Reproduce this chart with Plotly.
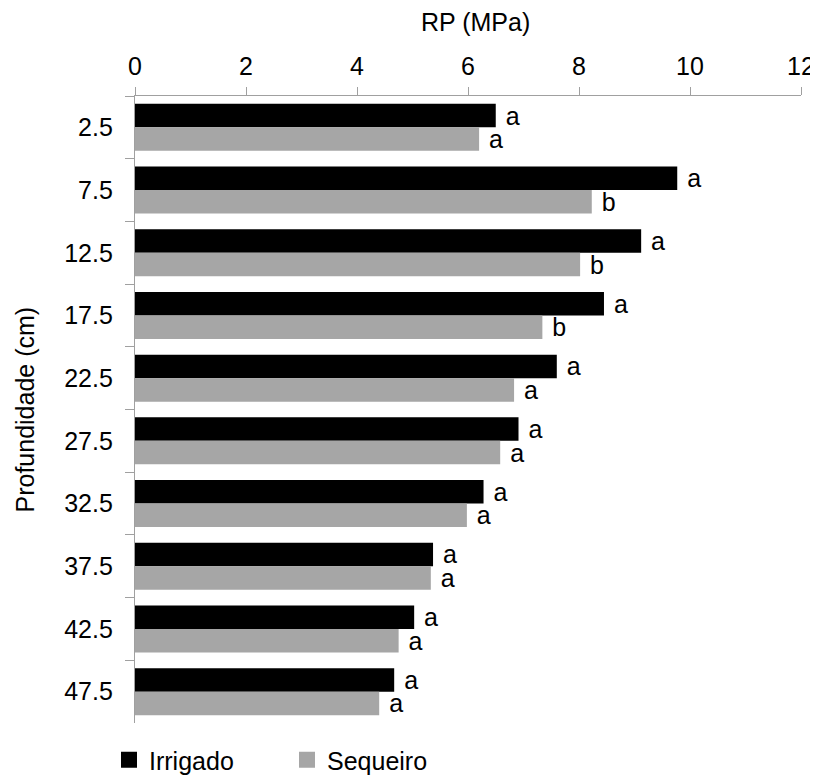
import plotly.graph_objects as go

depths = ["2.5", "7.5", "12.5", "17.5", "22.5", "27.5", "32.5", "37.5", "42.5", "47.5"]
irrigado = [6.50, 9.77, 9.12, 8.45, 7.60, 6.91, 6.28, 5.37, 5.03, 4.67]
sequeiro = [6.20, 8.23, 8.02, 7.34, 6.83, 6.58, 5.98, 5.33, 4.75, 4.40]
irrigado_letters = ["a", "a", "a", "a", "a", "a", "a", "a", "a", "a"]
sequeiro_letters = ["a", "b", "b", "b", "a", "a", "a", "a", "a", "a"]
series_names = ["Irrigado", "Sequeiro"]
series_colors = ["#000000", "#a6a6a6"]

FONT = "Liberation Sans, Arial, sans-serif"
FS = 25
AXIS_COLOR = "#a0a0a0"

fig = go.Figure()
for name, vals, letters, col in zip(series_names, [irrigado, sequeiro],
                                    [irrigado_letters, sequeiro_letters], series_colors):
    fig.add_trace(go.Bar(
        name=name, y=depths, x=vals, orientation="h",
        marker=dict(color=col, line=dict(width=0)),
        text=letters, texttemplate="\u00a0%{text}", textposition="outside",
        constraintext="none",
        cliponaxis=False, showlegend=False, legendgroup=name,
        textfont=dict(size=FS, color="#000000", family=FONT),
    ))
# legend entries (square swatches)
for name, col in zip(series_names, series_colors):
    fig.add_trace(go.Scatter(
        name=name, x=[None], y=[None], mode="markers", legendgroup=name,
        marker=dict(symbol="square", size=17, color=col),
        showlegend=True, hoverinfo="skip",
    ))

# the page body adds an 8px margin, so the figure is 810x768 with offsets
L, R, T, B = 127, 17, 88, 53
W, H = 810, 768
PW = W - L - R

fig.update_layout(
    width=W, height=H,
    paper_bgcolor="white", plot_bgcolor="white",
    barmode="group", bargap=0.25, bargroupgap=0,
    margin=dict(l=L, r=R, t=T, b=B, autoexpand=False),
    font=dict(family=FONT, size=FS, color="#000000"),
    showlegend=True,
    legend=dict(orientation="h", x=-0.039, xanchor="left",
                yref="container", y=16 / H, yanchor="middle",
                font=dict(size=FS), itemsizing="trace", tracegroupgap=0,
                entrywidth=133, bgcolor="rgba(0,0,0,0)"),
    annotations=[
        dict(text="RP (MPa)", xref="paper", yref="paper", x=(476 - 135) / PW, y=1,
             yshift=96 - 22, xanchor="center", yanchor="middle", showarrow=False,
             font=dict(size=FS)),
        dict(text="Profundidade (cm)", xref="paper", yref="paper", x=0, xshift=-(135 - 24),
             y=0.5, xanchor="center", yanchor="middle", textangle=-90, showarrow=False,
             font=dict(size=FS)),
    ],
)
fig.update_xaxes(
    side="top", range=[0, 12], dtick=2, tick0=0,
    showgrid=False, zeroline=False, automargin=False,
    showline=True, linecolor=AXIS_COLOR, linewidth=1.3,
    ticks="outside", ticklen=8, tickcolor=AXIS_COLOR, tickwidth=1.3,
    tickfont=dict(size=FS), ticklabelstandoff=2,
)
fig.update_yaxes(
    autorange="reversed", type="category", automargin=False,
    showgrid=False, showline=True, linecolor=AXIS_COLOR, linewidth=1.3,
    ticks="outside", ticklen=9, tickcolor=AXIS_COLOR, tickwidth=1.3,
    tickson="boundaries", ticklabelstandoff=16,
    tickfont=dict(size=FS),
)

fig.write_html("out.html")
